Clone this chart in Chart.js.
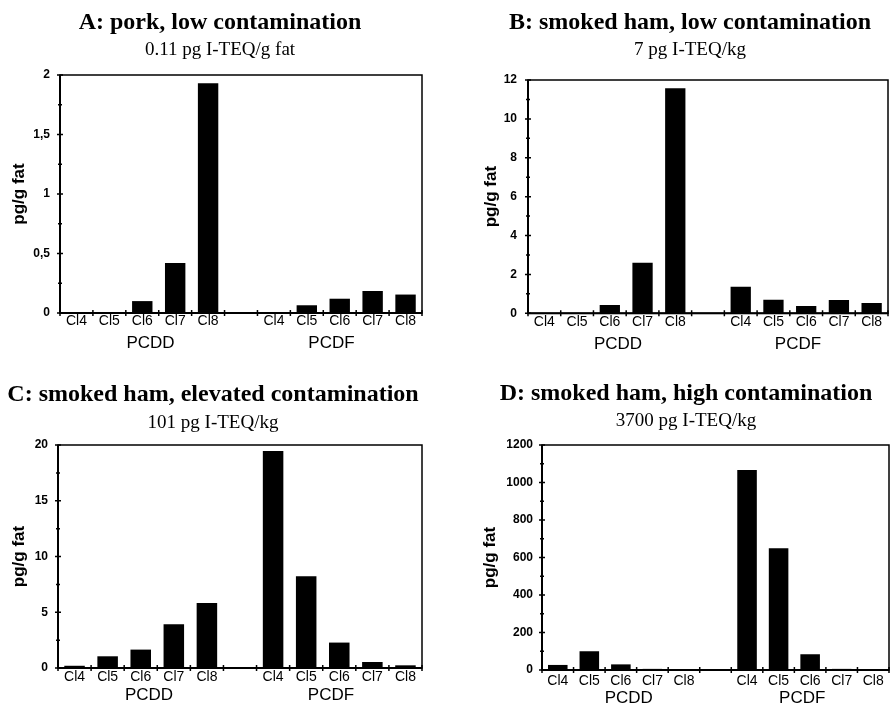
<!DOCTYPE html>
<html>
<head>
<meta charset="utf-8">
<script src="https://cdn.jsdelivr.net/npm/chart.js@4.4.1/dist/chart.umd.min.js"></script>
<style>
  html, body { margin: 0; padding: 0; background: #fff; }
  body { width: 890px; height: 706px; position: relative; overflow: hidden; }
  canvas { position: absolute; }
</style>
</head>
<body>
<canvas id="cA" width="445" height="353" style="left:0;top:0"></canvas>
<canvas id="cB" width="445" height="353" style="left:445px;top:0"></canvas>
<canvas id="cC" width="445" height="353" style="left:0;top:353px"></canvas>
<canvas id="cD" width="445" height="354" style="left:445px;top:353px"></canvas>
<script>
// ---- data ----
const categories = ['Cl4', 'Cl5', 'Cl6', 'Cl7', 'Cl8', '', 'Cl4', 'Cl5', 'Cl6', 'Cl7', 'Cl8'];
const groupLabels = ['PCDD', 'PCDF'];
const valuesA = [0, 0, 0.10, 0.42, 1.93, null, 0, 0.065, 0.12, 0.185, 0.155];
const valuesB = [0, 0, 0.43, 2.6, 11.57, null, 1.37, 0.7, 0.38, 0.68, 0.53];
const valuesC = [0.2, 1.05, 1.65, 3.92, 5.84, null, 19.46, 8.23, 2.28, 0.54, 0.24];
const valuesD = [27, 100, 30, 6, 4, null, 1067, 649, 84, 6, 3];
const titles = ['A: pork, low contamination', 'B: smoked ham, low contamination',
                'C: smoked ham, elevated contamination', 'D: smoked ham, high contamination'];
const subtitles = ['0.11 pg I-TEQ/g fat', '7 pg I-TEQ/kg', '101 pg I-TEQ/kg', '3700 pg I-TEQ/kg'];
const yMaxes = [2, 12, 20, 1200];
const ySteps = [0.5, 2, 5, 200];
const yTitle = 'pg/g fat';

// ---- plugins: frame + cross tick marks ----
const frameTicks = {
  id: 'frameTicks',
  afterDatasetsDraw(chart) {
    const ctx = chart.ctx, a = chart.chartArea;
    const xs = chart.scales.x, ys = chart.scales.y;
    ctx.save();
    ctx.strokeStyle = '#000';
    ctx.lineWidth = 1.5;
    ctx.strokeRect(a.left, a.top, a.right - a.left, a.bottom - a.top);
    ctx.lineWidth = 2;
    ctx.beginPath();
    ctx.moveTo(a.left, a.top); ctx.lineTo(a.left, a.bottom); ctx.lineTo(a.right, a.bottom);
    ctx.stroke();
    ctx.lineWidth = 1.5;
    ctx.beginPath();
    for (let i = 0; i <= categories.length; i++) {
      const px = xs.getPixelForValue(i - 0.5);
      ctx.moveTo(px, a.bottom - 3); ctx.lineTo(px, a.bottom + 3);
    }
    ctx.stroke();
    const step = ys.options.ticks.stepSize;
    ctx.beginPath();
    ys.ticks.forEach(t => {
      const py = ys.getPixelForValue(t.value);
      ctx.moveTo(a.left - 3, py); ctx.lineTo(a.left + 3, py);
      const mv = t.value + step / 2;
      if (mv < ys.max) {
        const pm = ys.getPixelForValue(mv);
        ctx.moveTo(a.left - 2, pm); ctx.lineTo(a.left + 2, pm);
      }
    });
    ctx.stroke();
    ctx.restore();
  }
};

const sans = "'Liberation Sans', Arial, sans-serif";
const serif = "'Liberation Serif', 'Times New Roman', serif";

function makePanel(id, idx, values, lay) {
  new Chart(document.getElementById(id), {
    type: 'bar',
    data: {
      labels: categories,
      datasets: [{
        data: values,
        backgroundColor: '#000',
        borderWidth: 0,
        barPercentage: 0.62,
        categoryPercentage: 1.0
      }]
    },
    plugins: [frameTicks],
    options: {
      responsive: false,
      animation: false,
      devicePixelRatio: 1,
      layout: { padding: { left: lay.L, right: lay.R, top: 0, bottom: lay.pb } },
      plugins: {
        legend: { display: false },
        tooltip: { enabled: false },
        title: {
          display: true, text: titles[idx], color: '#000',
          font: { family: serif, size: 24, weight: 'bold', lineHeight: 1.2 },
          padding: { top: lay.tpt, bottom: 0 }
        },
        subtitle: {
          display: true, text: subtitles[idx], color: '#000',
          font: { family: serif, size: 19, weight: 'normal', lineHeight: 1.2 },
          padding: { top: lay.spt, bottom: lay.spb }
        }
      },
      scales: {
        x: {
          type: 'category', position: 'bottom', weight: 0, offset: true,
          grid: { display: false, drawTicks: false },
          border: { display: false },
          afterFit: (s) => { s.height = 14 + lay.xp; },
          ticks: { color: '#000', autoSkip: false, maxRotation: 0, padding: lay.xp,
                   font: { family: sans, size: 14, lineHeight: 1 } }
        },
        x2: {
          type: 'category', position: 'bottom', weight: 1, offset: true,
          labels: groupLabels,
          grid: { display: false, drawTicks: false },
          border: { display: false },
          afterFit: (s) => { s.height = 17 + lay.x2p; },
          ticks: { color: '#000', autoSkip: false, maxRotation: 0, padding: lay.x2p,
                   font: { family: sans, size: 17, lineHeight: 1 } }
        },
        y: {
          min: 0, max: yMaxes[idx],
          grid: { display: false, drawTicks: false },
          border: { display: false },
          afterFit: (s) => { s.width = lay.yw; },
          ticks: {
            stepSize: ySteps[idx], color: '#000', padding: lay.ytp,
            font: { family: sans, size: 12, weight: 'bold' },
            callback: (v) => String(v).replace('.', ',')
          },
          title: {
            display: true, text: yTitle, color: '#000',
            font: { family: sans, size: 17, weight: 'bold', lineHeight: 1.2 },
            padding: { top: lay.ytt, bottom: 0 }
          }
        }
      }
    }
  });
}

makePanel('cA', 0, valuesA, { L: 18, R: 23, yw: 42, ytt: -9.2, ytp: 10, tpt: 8.6, spt: 1.2, spb: 13.6, xp: 1.5, x2p: 6, pb: 1.5 });
makePanel('cB', 1, valuesB, { L: 47, R: 2, yw: 36, ytt: -10.7, ytp: 11, tpt: 8.6, spt: 1.2, spb: 18.6, xp: 2.2, x2p: 6, pb: 0.5 });
makePanel('cC', 2, valuesC, { L: 4, R: 23, yw: 54, ytt: 4.8, ytp: 10, tpt: 27.6, spt: 2.7, spb: 10.1, xp: 2, x2p: 3, pb: 2 });
makePanel('cD', 3, valuesD, { L: 38, R: 1, yw: 59, ytt: -3.2, ytp: 9, tpt: 26.1, spt: 2.2, spb: 12.1, xp: 4, x2p: 1.8, pb: 0.2 });
</script>
</body>
</html>
